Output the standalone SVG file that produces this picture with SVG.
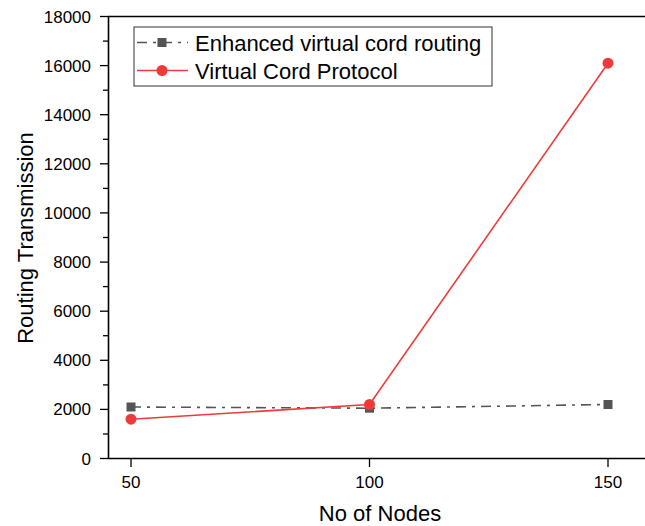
<svg xmlns="http://www.w3.org/2000/svg" width="645" height="526" viewBox="0 0 645 526">
  <style>
    .axis { stroke: #000; stroke-width: 1.6; fill: none; }
    .tick { stroke: #000; stroke-width: 1.3; }
    .tl { font-family: "Liberation Sans", Arial, sans-serif; font-size: 17px; fill: #000; }
    .title { font-family: "Liberation Sans", Arial, sans-serif; font-size: 22px; fill: #000; }
    .leg { font-family: "Liberation Sans", Arial, sans-serif; font-size: 22px; fill: #000; }
    .evcr { stroke: #555; stroke-width: 1.6; fill: none; stroke-dasharray: 10 6 3 6; }
    .vcp { stroke: #ef3a3a; stroke-width: 1.6; fill: none; }
    .sq { fill: #555; }
    .dot { fill: #ef3a3a; }
  </style>
  <rect width="645" height="526" fill="#fff"/>

  <!-- axes frame (right side open) -->
  <g id="axes">
    <line class="axis" x1="108.5" y1="16.5" x2="108.5" y2="459"/>
    <line class="axis" x1="108" y1="16.5" x2="645" y2="16.5"/>
    <line class="axis" x1="108" y1="458.5" x2="645" y2="458.5"/>
    <!-- y major ticks every 2000 -->
    <g class="tick">
      <line x1="100" y1="458.5" x2="108" y2="458.5"/>
      <line x1="100" y1="409.4" x2="108" y2="409.4"/>
      <line x1="100" y1="360.3" x2="108" y2="360.3"/>
      <line x1="100" y1="311.2" x2="108" y2="311.2"/>
      <line x1="100" y1="262.1" x2="108" y2="262.1"/>
      <line x1="100" y1="212.9" x2="108" y2="212.9"/>
      <line x1="100" y1="163.8" x2="108" y2="163.8"/>
      <line x1="100" y1="114.7" x2="108" y2="114.7"/>
      <line x1="100" y1="65.6" x2="108" y2="65.6"/>
      <line x1="100" y1="16.5" x2="108" y2="16.5"/>
      <!-- minor ticks -->
      <line x1="103" y1="434" x2="108" y2="434"/>
      <line x1="103" y1="384.9" x2="108" y2="384.9"/>
      <line x1="103" y1="335.7" x2="108" y2="335.7"/>
      <line x1="103" y1="286.6" x2="108" y2="286.6"/>
      <line x1="103" y1="237.5" x2="108" y2="237.5"/>
      <line x1="103" y1="188.4" x2="108" y2="188.4"/>
      <line x1="103" y1="139.3" x2="108" y2="139.3"/>
      <line x1="103" y1="90.2" x2="108" y2="90.2"/>
      <line x1="103" y1="41.1" x2="108" y2="41.1"/>
      <!-- x ticks -->
      <line x1="131" y1="458.5" x2="131" y2="467"/>
      <line x1="369.5" y1="458.5" x2="369.5" y2="467"/>
      <line x1="608" y1="458.5" x2="608" y2="467"/>
    </g>
    <g class="tl" text-anchor="end">
      <text x="91" y="464.5">0</text>
      <text x="91" y="415.4">2000</text>
      <text x="91" y="366.3">4000</text>
      <text x="91" y="317.2">6000</text>
      <text x="91" y="268.1">8000</text>
      <text x="91" y="218.9">10000</text>
      <text x="91" y="169.8">12000</text>
      <text x="91" y="120.7">14000</text>
      <text x="91" y="71.6">16000</text>
      <text x="91" y="22.5">18000</text>
    </g>
    <g class="tl" text-anchor="middle">
      <text x="131" y="488">50</text>
      <text x="369.5" y="488">100</text>
      <text x="608" y="488">150</text>
    </g>
    <text class="title" x="380" y="521" text-anchor="middle">No of Nodes</text>
    <text class="title" transform="translate(33 238) rotate(-90)" text-anchor="middle">Routing Transmission</text>
  </g>

  <!-- data series -->
  <g id="connectors">
    <polyline class="evcr" points="131,407 369.5,408.2 608,404.5"/>
    <polyline class="vcp" points="131,419.2 369.5,404.5 608,63.2"/>
  </g>
  <g id="series-evcr">
    <rect class="sq" x="126.5" y="402.5" width="9" height="9"/>
    <rect class="sq" x="365" y="403.7" width="9" height="9"/>
    <rect class="sq" x="603.5" y="400" width="9" height="9"/>
  </g>
  <g id="series-vcp">
    <circle class="dot" cx="131" cy="419.2" r="5.5"/>
    <circle class="dot" cx="369.5" cy="404.5" r="5.5"/>
    <circle class="dot" cx="608" cy="63.2" r="5.5"/>
  </g>

  <!-- legend -->
  <g id="legend">
    <rect x="134" y="27" width="358" height="59" fill="#fff" stroke="#333" stroke-width="1"/>
    <line class="evcr" x1="137" y1="42.5" x2="188" y2="42.5"/>
    <rect class="sq" x="157.5" y="38" width="9" height="9"/>
    <text class="leg" x="195" y="51">Enhanced virtual cord routing</text>
    <line class="vcp" x1="137" y1="70.5" x2="188" y2="70.5"/>
    <circle class="dot" cx="162" cy="70.5" r="5.5"/>
    <text class="leg" x="195" y="79">Virtual Cord Protocol</text>
  </g>
</svg>
